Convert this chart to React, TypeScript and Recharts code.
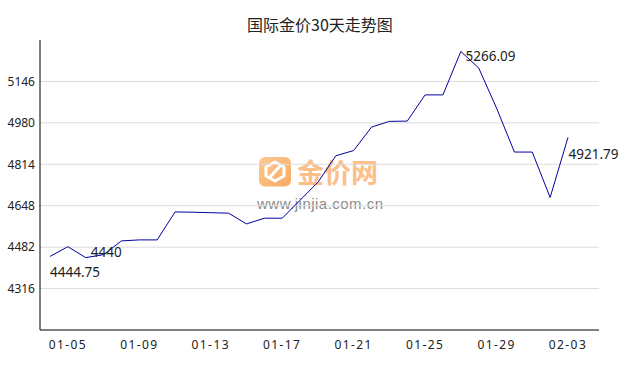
import React from 'react';
import { LineChart, Line, XAxis, YAxis, ReferenceLine } from 'recharts';

const dates = [
  '01-04', '01-05', '01-06', '01-07', '01-08', '01-09', '01-10', '01-11', '01-12', '01-13',
  '01-14', '01-15', '01-16', '01-17', '01-18', '01-19', '01-20', '01-21', '01-22', '01-23',
  '01-24', '01-25', '01-26', '01-27', '01-28', '01-29', '01-30', '01-31', '02-02', '02-03',
];
const prices = [
  4444.75, 4484, 4440, 4452, 4507, 4511, 4511, 4623, 4622, 4620,
  4618, 4575, 4598, 4598, 4670, 4742, 4848, 4869, 4963, 4986,
  4987, 5092, 5092, 5266.09, 5200, 5039, 4863, 4863, 4681, 4921.79,
];
const xTicks = ['01-05', '01-09', '01-13', '01-17', '01-21', '01-25', '01-29', '02-03'];
const yTicks = [4316, 4482, 4648, 4814, 4980, 5146];
const yDomain = [4150, 5312];
const title = '国际金价30天走势图';

const data = dates.map((d, i) => ({ date: d, price: prices[i] }));

const maxIdx = prices.indexOf(Math.max(...prices));
const minIdx = prices.indexOf(Math.min(...prices));
const lastIdx = prices.length - 1;

const labelStyle: Record<string, { dx: number; dy: number }> = {
  first: { dx: 0, dy: 15.6 },
  min: { dx: 5, dy: -5 },
  max: { dx: 4.7, dy: 4.3 },
  last: { dx: 0.5, dy: 16.4 },
};

function roleOf(i: number): string | null {
  if (i === 0) return 'first';
  if (i === lastIdx) return 'last';
  if (i === maxIdx) return 'max';
  if (i === minIdx) return 'min';
  return null;
}

const renderLabel = (props: any) => {
  const { x, y, index, value } = props;
  const role = roleOf(index);
  if (!role) return <g key={`l${index}`} />;
  const o = labelStyle[role];
  return (
    <text
      key={`l${index}`}
      x={x + o.dx}
      y={y + o.dy}
      dy="0.36em"
      fontSize={13.5}
      fontFamily="'Noto Sans', sans-serif"
      fill="#222"
      textAnchor="start"
    >
      {String(value)}
    </text>
  );
};

export default function App() {
  return (
    <div style={{ position: 'absolute', left: 0, top: 0, width: 638, height: 370, background: '#fff' }}>
      <svg width={638} height={370} style={{ position: 'absolute', left: 0, top: 0 }}>
        <defs>
          <linearGradient id="wmg" x1="0" y1="0" x2="1" y2="1">
            <stop offset="0%" stopColor="#fcc995" />
            <stop offset="100%" stopColor="#f8ab62" />
          </linearGradient>
        </defs>
        <text
          x={320}
          y={31}
          textAnchor="middle"
          fontSize={16}
          fontFamily="'Noto Sans CJK SC', sans-serif"
          fill="#222"
        >
          {title}
        </text>
        <rect x={259} y={157} width={32} height={29.5} rx={6} fill="url(#wmg)" />
        <polygon
          points="275,162 284,167 284,176 275,181 266,176 266,167"
          fill="none"
          stroke="#fff"
          strokeWidth={3}
          strokeLinejoin="round"
        />
        <line x1={270} y1={177} x2={280} y2={166} stroke="#fff" strokeWidth={3} strokeLinecap="round" />
        <text
          x={297}
          y={183}
          fontSize={27}
          fontWeight="bold"
          fontFamily="'Noto Sans CJK SC', sans-serif"
          fill="#fbc08a"
        >
          金价网
        </text>
        <text
          x={257}
          y={208.5}
          fontSize={15}
          textLength={126}
          fontFamily="'Liberation Sans', Arial, sans-serif"
          fill="#8a8a8a"
        >
          www.jinjia.com.cn
        </text>
      </svg>
      <div style={{ position: 'absolute', left: 0, top: 0 }}>
        <LineChart
          width={638}
          height={370}
          data={data}
          margin={{ top: 40, right: 39, left: 0, bottom: 10 }}
        >
          <XAxis
            dataKey="date"
            ticks={xTicks}
            interval={0}
            height={30}
            padding={{ left: 10, right: 31 }}
            axisLine={{ stroke: '#000', strokeWidth: 1 }}
            tickLine={false}
            tickSize={0}
            tickMargin={10}
            tick={{ fontSize: 12, fill: '#222', fontFamily: "'Noto Sans', sans-serif", letterSpacing: 1.4 }}
          />
          <YAxis
            type="number"
            domain={yDomain}
            ticks={yTicks}
            interval={0}
            width={40}
            axisLine={{ stroke: '#000', strokeWidth: 1 }}
            tickLine={false}
            tickSize={0}
            tickMargin={5}
            allowDataOverflow={true}
            tick={{ fontSize: 12, fill: '#222', fontFamily: "'Noto Sans', sans-serif" }}
          />
          {yTicks.map((v) => (
            <ReferenceLine key={v} y={v} stroke="#dcdcdc" strokeWidth={1} ifOverflow="extendDomain" />
          ))}
          <Line
            type="linear"
            dataKey="price"
            stroke="#0000a0"
            strokeWidth={1}
            dot={false}
            activeDot={false}
            isAnimationActive={false}
            label={renderLabel}
          />
        </LineChart>
      </div>
    </div>
  );
}
